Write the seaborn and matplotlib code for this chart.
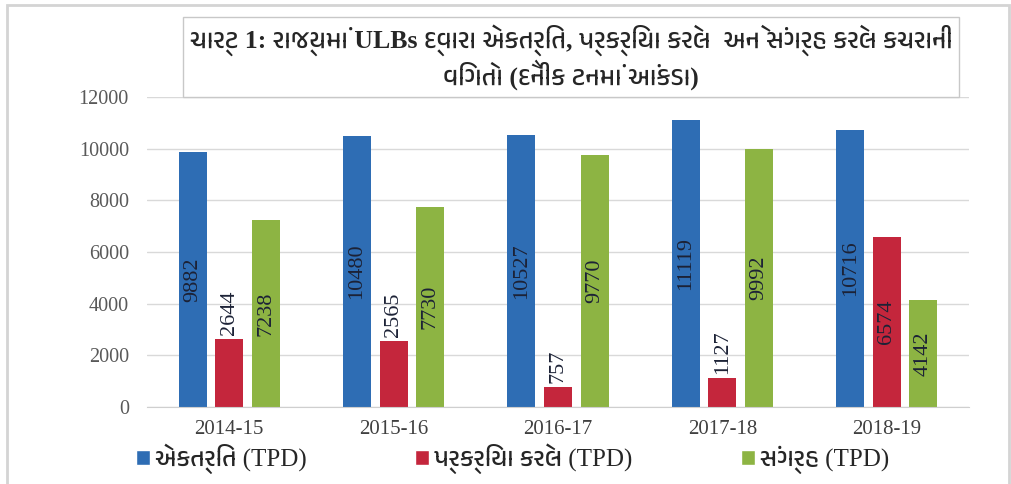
import pandas as pd
import matplotlib
matplotlib.use('Agg')
import matplotlib.pyplot as plt
import seaborn as sns
from matplotlib import font_manager, ft2font
from matplotlib.patches import Patch, Rectangle


def find_gujarati_font():
    # pick an installed family that really has Gujarati glyphs,
    # preferring a dedicated Gujarati face and avoiding monospace ones
    found = []
    for f in font_manager.fontManager.ttflist:
        try:
            if 0x0A9A in ft2font.FT2Font(f.fname).get_charmap():
                found.append(f.name)
        except Exception:
            pass
    if not found:
        return 'DejaVu Sans'
    found.sort(key=lambda n: ('Gujarati' not in n, 'Mono' in n, n))
    return found[0]


# data
years = ['2014-15', '2015-16', '2016-17', '2017-18', '2018-19']
collected = [9882, 10480, 10527, 11119, 10716]
processed = [2644, 2565, 757, 1127, 6574]
stored = [7238, 7730, 9770, 9992, 4142]
series_names = ['એકત્રિત (TPD)', 'પ્રક્રિયા કરેલ (TPD)', 'સંગ્રહ (TPD)']
colors = ['#2E6DB4', '#C4263C', '#8DB443']
title = ('ચાર્ટ 1: રાજ્યમાં ULBs દ્વારા એકત્રિત, પ્રક્રિયા કરેલ  અને સંગ્રહ કરેલ કચરાની\n'
         'વિગતો (દૈનીક ટનમાં આંકડા)')

df = pd.DataFrame({
    'year': years * 3,
    'series': [s for s in series_names for _ in years],
    'value': collected + processed + stored,
})

sns.set_style('white')
guj = find_gujarati_font()
plt.rcParams['font.family'] = ['Liberation Serif', guj, 'DejaVu Sans']
mixed = ['Liberation Serif', guj, 'DejaVu Sans']

fig, ax = plt.subplots(figsize=(10.11, 4.84), dpi=100)
ax.set_position([147 / 1011, 77 / 484, 822 / 1011, 310 / 484])

sns.barplot(data=df, x='year', y='value', hue='series', palette=colors,
            width=0.667, gap=0.233, saturation=1, linewidth=0,
            legend=False, ax=ax)

for cont, vals in zip(ax.containers, [collected, processed, stored]):
    inside = [str(v) if v >= 3000 else '' for v in vals]
    outside = [str(v) if v < 3000 else '' for v in vals]
    ax.bar_label(cont, labels=inside, label_type='center', rotation=90,
                 fontsize=16, color='#1c2236')
    ax.bar_label(cont, labels=outside, label_type='edge', rotation=90,
                 padding=3, fontsize=16, color='#1c2236')

ax.set_xlim(-0.5, 4.5)
ax.set_ylim(0, 12000)
ax.set_yticks(range(0, 12001, 2000))
ax.set_xlabel('')
ax.set_ylabel('')
ax.yaxis.grid(True, color='#d9d9d9', linewidth=1)
ax.set_axisbelow(True)
for s in ['top', 'right', 'left']:
    ax.spines[s].set_visible(False)
ax.spines['bottom'].set_color('#cfcfcf')
ax.tick_params(axis='y', length=0, pad=13, labelsize=14.5, labelcolor='#595959')
ax.tick_params(axis='x', length=0, pad=9, labelsize=15, labelcolor='#404040')

# outer frame and title box
fig.patches.append(Rectangle((7 / 1011, -0.05), 1002 / 1011, 1.05 - 5 / 484,
                             transform=fig.transFigure, fill=False,
                             edgecolor='#d4d4d4', linewidth=2))
fig.patches.append(Rectangle((183 / 1011, 387 / 484), 776 / 1011, 80 / 484,
                             transform=fig.transFigure, facecolor='white',
                             edgecolor='#c8c8c8', linewidth=1, zorder=2))
fig.text(571 / 1011, 427 / 484, title, ha='center', va='center', fontsize=18.5,
         fontweight='bold', color='#262626', family=mixed, linespacing=1.15,
         zorder=3)

handles = [Patch(facecolor=c) for c in colors]
fig.legend(handles, series_names, loc='lower left', ncol=3, mode='expand',
           bbox_to_anchor=(136 / 1011, 0.02, 753 / 1011, 0.06),
           frameon=False, borderaxespad=0, borderpad=0,
           handlelength=0.55, handleheight=0.55, handletextpad=0.2,
           prop={'family': mixed, 'size': 18})

fig.savefig('out.png', dpi=100)
